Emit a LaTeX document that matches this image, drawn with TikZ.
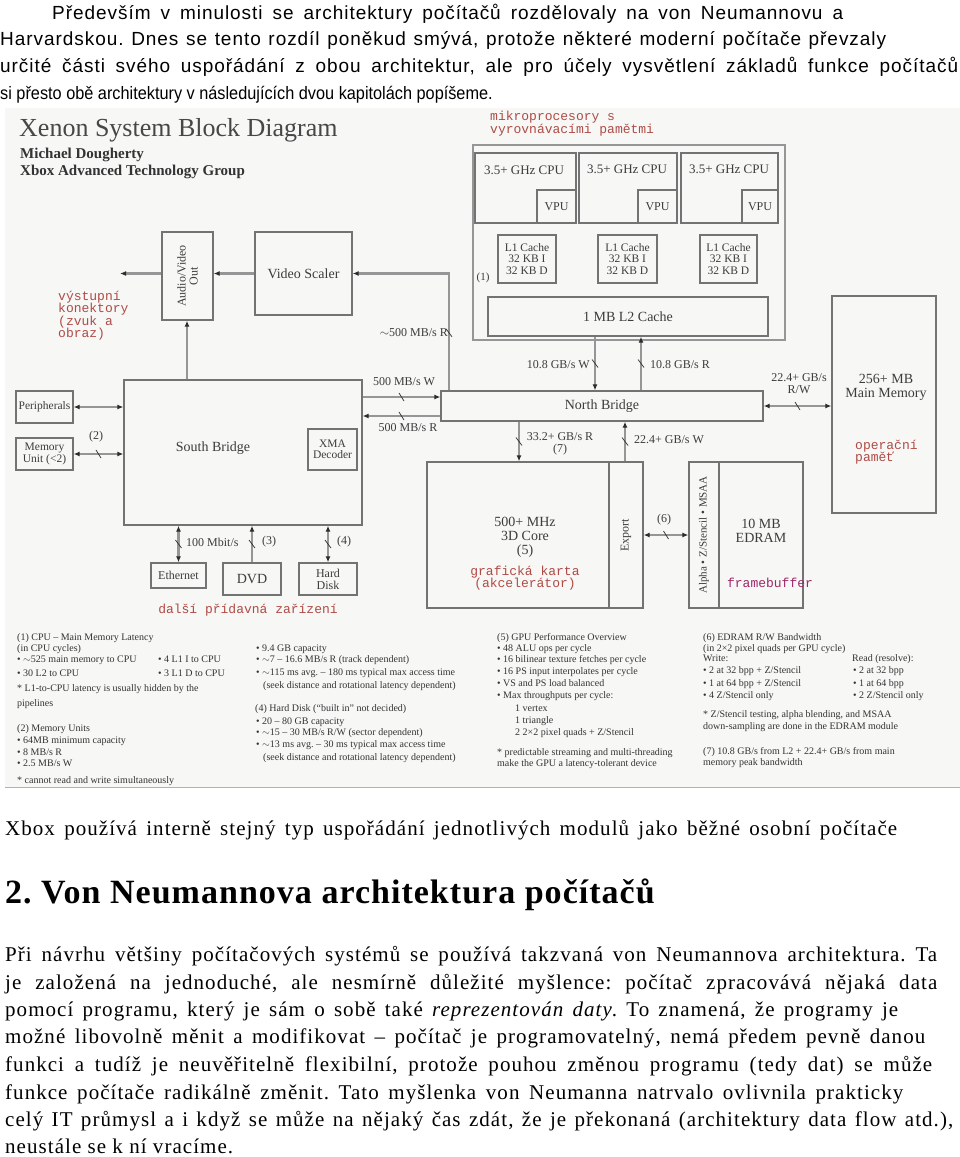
\documentclass[tikz,border=0pt]{standalone}
\usepackage{fontspec}
\setmainfont{Liberation Serif}
\newfontfamily\sansf{Liberation Sans}
\newfontfamily\sansls[LetterSpace=5]{Liberation Sans}
\newfontfamily\bodyf[LetterSpace=5]{Liberation Serif}
\newfontfamily\headf[LetterSpace=3]{Liberation Serif}
\newfontfamily\monof{Liberation Mono}
\usetikzlibrary{arrows.meta,decorations.markings}
\definecolor{bgc}{RGB}{247,247,246}
\definecolor{boxc}{RGB}{115,115,115}
\definecolor{linec}{RGB}{150,150,150}
\definecolor{tipc}{RGB}{45,45,45}
\definecolor{txtc}{RGB}{60,60,60}
\definecolor{redc}{RGB}{175,75,70}
\definecolor{magc}{RGB}{160,40,105}
\newcommand\myfs[1]{\fontsize{#1}{#1}\selectfont}
\frenchspacing
\begin{document}
\begin{tikzpicture}[x=1pt,y=-1pt,
  >={Latex[length=6pt,width=5pt,color=tipc]},
  box/.style={draw=boxc,line width=1.3pt,inner sep=0pt,text=txtc,font=\myfs{14},align=center},
  obox/.style={draw=linec,line width=2.2pt,inner sep=0pt},
  conn/.style={draw=linec,line width=2.2pt},
  lbl/.style={text=txtc,font=\myfs{12},inner sep=0pt,align=center},
  ann/.style={text=redc,font=\monof\myfs{13},inner sep=0pt,align=left},
  note/.style={text=black!80,font=\myfs{10},anchor=base west,inner sep=0pt},
  bus/.style={postaction={decorate,decoration={markings,mark=at position #1 with {\draw[-,draw=tipc,line width=0.7pt] (-2.5pt,4pt)--(2.5pt,-4pt);}}}},
  bus/.default=0.5,
  busv/.style={postaction={decorate,decoration={markings,mark=at position #1 with {\draw[-,draw=tipc,line width=0.7pt] (-4pt,-3pt)--(4pt,3pt);}}}},
  busv/.default=0.5,
  body/.style={anchor=base west,inner sep=0pt,font=\bodyf\myfs{21}},
  top/.style={anchor=base west,inner sep=0pt,font=\sansls\myfs{19}}]
\useasboundingbox (0,0) rectangle (960,1157);
% ---------- top paragraph ----------
\node[top] (p1) at (52,19) {\makebox[791pt][s]{Především v minulosti se architektury počítačů rozdělovaly na von Neumannovu a}};
\node[top] (p2) at (0,45) {\makebox[886pt][s]{Harvardskou. Dnes se tento rozdíl poněkud smývá, protože některé moderní počítače převzaly}};
\node[top] (p3) at (0,72) {\makebox[958pt][s]{určité části svého uspořádání z obou architektur, ale pro účely vysvětlení základů funkce počítačů}};
\node[top,font=\sansf\myfs{18}] (p4) at (0,99) {\scalebox{0.905}[1]{si přesto obě architektury v následujících dvou kapitolách popíšeme.}};
% ---------- diagram background ----------
\fill[bgc] (5,108) rectangle (960,787);
\draw[black!30,line width=1pt] (5,787) -- (960,787);
% titles
\node[anchor=base west,inner sep=0pt,text=black!72,font=\myfs{26}] (title) at (19,136) {Xenon System Block Diagram};
\node[anchor=base west,inner sep=0pt,text=black!80,font=\bfseries\myfs{15}] (auth) at (20,158) {Michael Dougherty};
\node[anchor=base west,inner sep=0pt,text=black!80,font=\bfseries\myfs{15}] (grp) at (20,175) {Xbox Advanced Technology Group};
\node[ann,anchor=north west] (a1) at (490,111) {mikroprocesory s\\[-0.5pt]vyrovnávacími pamětmi};
% ---------- CPU block ----------
\node[obox,minimum width=312,minimum height=195] (cpuo) at (629,242.5) {};
\node[box,minimum width=101,minimum height=70] (cpu1) at (525.5,188) {};
\node[box,minimum width=98,minimum height=70] (cpu2) at (628,188) {};
\node[box,minimum width=97,minimum height=70] (cpu3) at (729.5,188) {};
\node[lbl,font=\myfs{13}] (c1t) at (524,170) {3.5+ GHz CPU};
\node[lbl,font=\myfs{13}] (c2t) at (627,169) {3.5+ GHz CPU};
\node[lbl,font=\myfs{13}] (c3t) at (729,169) {3.5+ GHz CPU};
\node[box,minimum width=39,minimum height=33,font=\myfs{12}] (vpu1) at (556.5,206.5) {VPU};
\node[box,minimum width=39,minimum height=33,font=\myfs{12}] (vpu2) at (657.5,206.5) {VPU};
\node[box,minimum width=36,minimum height=33,font=\myfs{12}] (vpu3) at (760,206.5) {VPU};
\node[box,minimum width=58,minimum height=48,font=\myfs{11.5}] (l11) at (527,259) {L1 Cache\\32 KB I\\32 KB D};
\node[box,minimum width=59,minimum height=48,font=\myfs{11.5}] (l12) at (627.5,259) {L1 Cache\\32 KB I\\32 KB D};
\node[box,minimum width=57,minimum height=48,font=\myfs{11.5}] (l13) at (728.5,259) {L1 Cache\\32 KB I\\32 KB D};
\node[lbl,font=\myfs{11}] (n1) at (483,278) {(1)};
\node[box,minimum width=280,minimum height=39] (l2) at (628,316.5) {1 MB L2 Cache};
% ---------- main memory ----------
\node[box,minimum width=104,minimum height=217] (mm) at (884,404.5) {};
\node[lbl,font=\myfs{14}] (mmt) at (886,387) {256+ MB\\Main Memory};
\node[ann,anchor=north west] (a2) at (855,440) {operační\\[-0.5pt]paměť};
% ---------- north bridge ----------
\node[box,minimum width=322,minimum height=30] (nb) at (602,406) {North Bridge};
% ---------- GPU ----------
\node[box,minimum width=182,minimum height=146] (gpu) at (518,535) {};
\node[box,minimum width=34,minimum height=146] (exp) at (626,535) {};
\node[lbl,rotate=90,font=\myfs{12}] (expt) at (626,535) {Export};
\node[lbl,font=\myfs{14}] (gput) at (525,537) {500+ MHz\\3D Core\\(5)};
\node[ann,align=center] (a3) at (525,578) {grafická karta\\[-0.5pt](akcelerátor)};
% ---------- EDRAM ----------
\node[box,minimum width=30,minimum height=146] (alpha) at (704,535) {};
\node[lbl,rotate=90,font=\myfs{11}] (alphat) at (704,535) {Alpha • Z/Stencil • MSAA};
\node[box,minimum width=84,minimum height=146] (edram) at (761,535) {};
\node[lbl,font=\myfs{14}] (edt) at (761,531) {10 MB\\EDRAM};
\node[text=magc,font=\monof\myfs{13},inner sep=0pt] (fb) at (770,583) {framebuffer};
% ---------- south bridge ----------
\node[box,minimum width=238,minimum height=145] (sb) at (243,452.5) {};
\node[lbl,font=\myfs{14}] (sbt) at (213,448) {South Bridge};
\node[box,minimum width=49,minimum height=41,font=\myfs{11.5}] (xma) at (332.5,449.5) {XMA\\Decoder};
% ---------- video ----------
\node[box,minimum width=97,minimum height=83] (vs) at (303.5,273.5) {Video Scaler};
\node[box,minimum width=51,minimum height=88] (av) at (187.5,276) {};
\node[lbl,rotate=90,font=\myfs{12}] (avt) at (187.5,276) {Audio/Video\\Out};
\node[ann,anchor=north west] (a4) at (58,291) {výstupní\\[-0.5pt]konektory\\[-0.5pt](zvuk a\\[-0.5pt]obraz)};
\coordinate (avout) at (120,273.5);
% ---------- peripherals ----------
\node[box,minimum width=57,minimum height=32,font=\myfs{11.5}] (per) at (44.5,407) {Peripherals};
\node[box,minimum width=57,minimum height=32,font=\myfs{11.5}] (mu) at (44.5,454) {Memory\\Unit (<2)};
\node[box,minimum width=55,minimum height=25,font=\myfs{12}] (eth) at (178.5,575.5) {Ethernet};
\node[box,minimum width=58,minimum height=32,font=\myfs{14}] (dvd) at (252,579) {DVD};
\node[box,minimum width=58,minimum height=32,font=\myfs{12}] (hdd) at (328,579) {Hard\\Disk};
\node[ann] (a5) at (248,610) {další přídavná zařízení};
% ---------- helper coordinates ----------
\coordinate (xw) at (595,0);
\coordinate (xr) at (641,0);
\coordinate (xg1) at (519,0);
\coordinate (xg2) at (625,0);
\coordinate (xvs) at (449,0);
\coordinate (xav) at (187,0);
\coordinate (yw) at (0,397);
\coordinate (yr) at (0,416);
% ---------- connectors ----------
\draw[conn,->,busv] (l2.south -| xw) -- (nb.north -| xw);
\draw[conn,->,busv] (nb.north -| xr) -- (l2.south -| xr);
\node[lbl,anchor=east] (lw) at (590,365) {10.8 GB/s W};
\node[lbl,anchor=west] (lr) at (650,365) {10.8 GB/s R};
\draw[conn,<->,bus] (nb.east) -- (nb.east -| mm.west);
\node[lbl] (lmm) at (799,384) {22.4+ GB/s\\R/W};
\draw[conn,->,busv] (nb.south -| xg1) -- (gpu.north -| xg1);
\draw[conn,->,busv] (exp.north -| xg2) -- (nb.south -| xg2);
\node[lbl] (lg1) at (560,444) {33.2+ GB/s R\\(7)};
\node[lbl,anchor=west] (lg2) at (634,440) {22.4+ GB/s W};
\draw[conn,<->,bus] (exp.east) -- (alpha.west);
\node[lbl] (l6) at (664,520) {(6)};
\draw[conn,->,busv=0.27] (nb.north -| xvs) |- (vs.east);
\node[lbl,anchor=east] (lvs) at (448,333) {$\sim$500 MB/s R};
\draw[conn,->] (vs.west) -- (av.east |- vs.west);
\draw[conn,->] (av.west |- avout) -- (avout);
\draw[conn,->] (sb.north -| xav) -- (av.south -| xav);
\draw[conn,->,bus] (sb.east |- yw) -- (nb.west |- yw);
\draw[conn,->,bus] (nb.west |- yr) -- (sb.east |- yr);
\node[lbl] (lsw) at (404,382) {500 MB/s W};
\node[lbl] (lsr) at (408,428) {500 MB/s R};
\draw[conn,<->] (per.east) -- (per.east -| sb.west);
\draw[conn,<->,bus] (mu.east) -- (mu.east -| sb.west);
\node[lbl] (l2n) at (96,437) {(2)};
\draw[conn,<->,busv] (sb.south -| eth.north) -- (eth.north);
\draw[conn,->,busv] (dvd.north) -- (sb.south -| dvd.north);
\draw[conn,<->,busv] (sb.south -| hdd.north) -- (hdd.north);
\node[lbl,anchor=west] (leth) at (186,542) {100 Mbit/s};
\node[lbl,anchor=west] (ldvd) at (262,542) {(3)};
\node[lbl,anchor=west] (lhdd) at (337,542) {(4)};
% ---------- notes ----------
\node[note] (na1) at (17,640.5) {(1) CPU – Main Memory Latency};
\node[note] (na2) at (17,651.5) {(in CPU cycles)};
\node[note] (na3) at (17,662.5) {• $\sim$525 main memory to CPU};
\node[note] (na4) at (158,662.5) {• 4 L1 I to CPU};
\node[note] (na5) at (17,676.5) {• 30 L2 to CPU};
\node[note] (na6) at (158,676.5) {• 3 L1 D to CPU};
\node[note] (na7) at (17,691.5) {* L1-to-CPU latency is usually hidden by the};
\node[note] (na8) at (17,706.5) {pipelines};
\node[note] (na9) at (17,731.5) {(2) Memory Units};
\node[note] (na10) at (17,743.5) {• 64MB minimum capacity};
\node[note] (na11) at (17,755.5) {• 8 MB/s R};
\node[note] (na12) at (17,766.5) {• 2.5 MB/s W};
\node[note] (na13) at (17,783.5) {* cannot read and write simultaneously};
\node[note] (nb1) at (256,651.5) {• 9.4 GB capacity};
\node[note] (nb2) at (256,662.5) {• $\sim$7 – 16.6 MB/s R (track dependent)};
\node[note] (nb3) at (256,675.5) {• $\sim$115 ms avg. – 180 ms typical max access time};
\node[note] (nb4) at (263,688.5) {(seek distance and rotational latency dependent)};
\node[note] (nb5) at (255,711.5) {(4) Hard Disk (“built in” not decided)};
\node[note] (nb6) at (256,724.5) {• 20 – 80 GB capacity};
\node[note] (nb7) at (256,735.5) {• $\sim$15 – 30 MB/s R/W (sector dependent)};
\node[note] (nb8) at (256,747.5) {• $\sim$13 ms avg. – 30 ms typical max access time};
\node[note] (nb9) at (263,760.5) {(seek distance and rotational latency dependent)};
\node[note] (nc1) at (497,640.5) {(5) GPU Performance Overview};
\node[note] (nc2) at (497,651.5) {• 48 ALU ops per cycle};
\node[note] (nc3) at (497,662.5) {• 16 bilinear texture fetches per cycle};
\node[note] (nc4) at (497,674.5) {• 16 PS input interpolates per cycle};
\node[note] (nc5) at (497,686.5) {• VS and PS load balanced};
\node[note] (nc6) at (497,698.5) {• Max throughputs per cycle:};
\node[note] (nc7) at (515,711.5) {1 vertex};
\node[note] (nc8) at (515,723.5) {1 triangle};
\node[note] (nc9) at (515,735.5) {2 2×2 pixel quads + Z/Stencil};
\node[note] (nc10) at (497,755.5) {* predictable streaming and multi-threading};
\node[note] (nc11) at (497,766.5) {make the GPU a latency-tolerant device};
\node[note] (nd1) at (703,640.5) {(6) EDRAM R/W Bandwidth};
\node[note] (nd2) at (703,651.5) {(in 2×2 pixel quads per GPU cycle)};
\node[note] (nd3) at (703,661.5) {Write:};
\node[note] (nd4) at (852,661.5) {Read (resolve):};
\node[note] (nd5) at (703,673.5) {• 2 at 32 bpp + Z/Stencil};
\node[note] (nd6) at (853,673.5) {• 2 at 32 bpp};
\node[note] (nd7) at (703,686.5) {• 1 at 64 bpp + Z/Stencil};
\node[note] (nd8) at (853,686.5) {• 1 at 64 bpp};
\node[note] (nd9) at (703,698.5) {• 4 Z/Stencil only};
\node[note] (nd10) at (853,698.5) {• 2 Z/Stencil only};
\node[note] (nd11) at (703,717.5) {* Z/Stencil testing, alpha blending, and MSAA};
\node[note] (nd12) at (703,729.5) {down-sampling are done in the EDRAM module};
\node[note] (nd13) at (703,754.5) {(7) 10.8 GB/s from L2 + 22.4+ GB/s from main};
\node[note] (nd14) at (703,765.5) {memory peak bandwidth};
% ---------- bottom text ----------
\node[body] (b0) at (5,835) {\makebox[892pt][s]{Xbox používá interně stejný typ uspořádání jednotlivých modulů jako běžné osobní počítače}};
\node[anchor=base west,inner sep=0pt,font=\headf\bfseries\myfs{34}] (h2) at (5,903) {2. Von Neumannova architektura počítačů};
\node[body] (q1) at (5,961) {\makebox[932pt][s]{Při návrhu většiny počítačových systémů se používá takzvaná von Neumannova architektura. Ta}};
\node[body] (q2) at (5,989) {\makebox[932pt][s]{je založená na jednoduché, ale nesmírně důležité myšlence: počítač zpracovává nějaká data}};
\node[body] (q3) at (5,1016) {\makebox[893pt][s]{pomocí programu, který je sám o sobě také \textit{reprezentován daty}. To znamená, že programy je}};
\node[body] (q4) at (5,1043) {\makebox[920pt][s]{možné libovolně měnit a modifikovat – počítač je programovatelný, nemá předem pevně danou}};
\node[body] (q5) at (5,1071) {\makebox[927pt][s]{funkci a tudíž je neuvěřitelně flexibilní, protože pouhou změnou programu (tedy dat) se může}};
\node[body] (q6) at (5,1099) {\makebox[898pt][s]{funkce počítače radikálně změnit. Tato myšlenka von Neumanna natrvalo ovlivnila prakticky}};
\node[body] (q7) at (5,1126) {\makebox[948pt][s]{celý IT průmysl a i když se může na nějaký čas zdát, že je překonaná (architektury data flow atd.),}};
\node[body] (q8) at (5,1153) {neustále se k ní vracíme.};
\end{tikzpicture}
\end{document}
